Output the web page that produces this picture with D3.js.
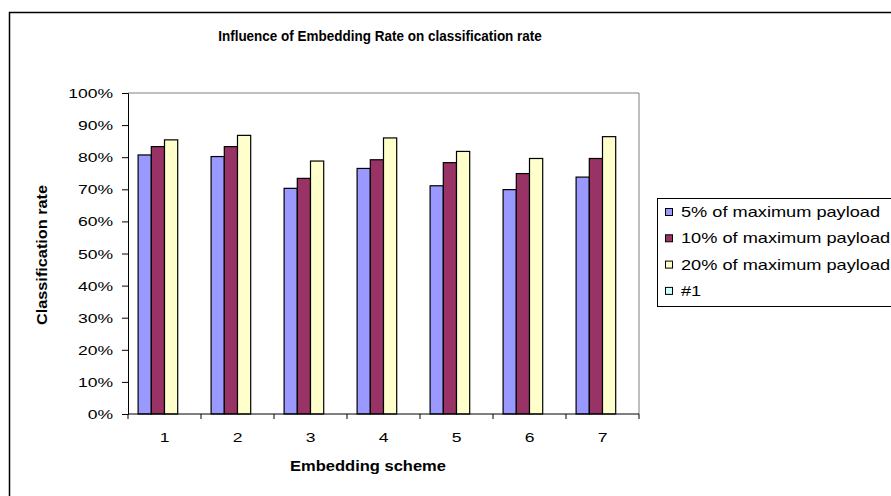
<!DOCTYPE html>
<html>
<head>
<meta charset="utf-8">
<script src="https://cdn.jsdelivr.net/npm/d3@7"></script>
<style>
  html, body { margin: 0; padding: 0; background: #fff; }
  svg { display: block; font-family: "Liberation Sans", Arial, sans-serif; }
</style>
</head>
<body>
<svg id="chart" width="891" height="496"></svg>
<script>
// Classification rate per embedding scheme, for three payload levels
const schemes = ["1", "2", "3", "4", "5", "6", "7"];
const seriesNames = ["5% of maximum payload", "10% of maximum payload", "20% of maximum payload", "#1"];
const payload5 = [80.7, 80.2, 70.3, 76.5, 71.1, 69.9, 73.8];
const payload10 = [83.3, 83.3, 73.4, 79.2, 78.3, 74.9, 79.6];
const payload20 = [85.4, 86.8, 78.8, 86.0, 81.8, 79.6, 86.4];
const series1 = [null, null, null, null, null, null, null];
const seriesColors = ["#9999FF", "#993366", "#FFFFCC", "#CCFFFF"];
const yTicks = [0, 10, 20, 30, 40, 50, 60, 70, 80, 90, 100];

const allSeries = [payload5, payload10, payload20, series1];

const svg = d3.select("#chart");
const STRETCH = 1.3; // horizontal stretch of the axis and legend type

// outer chart frame (continues past the right and bottom edges)
svg.append("rect")
  .attr("x", 9.5).attr("y", 12.5)
  .attr("width", 1000).attr("height", 1000)
  .attr("fill", "#fff").attr("stroke", "#000").attr("stroke-width", 1.5);

const plot = { left: 128, right: 639, top: 93, bottom: 414 };

const x = d3.scaleBand().domain(schemes).range([plot.left, plot.right]).padding(0);
const xInner = d3.scaleBand().domain(d3.range(seriesNames.length))
  .range([0, x.bandwidth()]).paddingInner(0).paddingOuter(0.765);
const y = d3.scaleLinear().domain([0, 100]).range([plot.bottom, plot.top]);

// plot area: grey border on top/right
svg.append("path")
  .attr("d", `M${plot.left},${plot.top}H${plot.right}V${plot.bottom}`)
  .attr("fill", "none").attr("stroke", "#808080").attr("stroke-width", 1);

// bars
const groups = svg.append("g").selectAll("g")
  .data(allSeries).join("g")
  .attr("fill", (d, i) => seriesColors[i]);
groups.selectAll("rect")
  .data((vals, si) => vals.map((v, ci) => ({ v, si, ci })).filter(d => d.v != null))
  .join("rect")
  .attr("x", d => x(schemes[d.ci]) + xInner(d.si))
  .attr("y", d => y(d.v))
  .attr("width", xInner.bandwidth())
  .attr("height", d => y(0) - y(d.v))
  .attr("stroke", "#000").attr("stroke-width", 1.2);

// text helper with optional horizontal stretch
function label(parent, tx, ty, text, opts = {}) {
  const sx = opts.stretch == null ? STRETCH : opts.stretch;
  return parent.append("text")
    .attr("transform", `translate(${tx},${ty}) scale(${sx},1)`)
    .attr("text-anchor", opts.anchor || "start")
    .attr("font-size", opts.size || 14)
    .attr("font-weight", opts.bold ? "bold" : "normal")
    .attr("fill", "#000")
    .text(text);
}

// y axis
const yAxis = d3.axisLeft(y).tickValues(yTicks).tickSize(6).tickFormat(() => "");
const yg = svg.append("g").attr("transform", `translate(${plot.left},0)`).call(yAxis);
yg.select(".domain").attr("stroke", "#000");
yg.selectAll(".tick line").attr("stroke", "#000");
yTicks.forEach(t => label(svg, 113, y(t) + 5, t + "%", { anchor: "end", size: 13.5 }));

// x axis: ticks on category boundaries, labels centred
const xg = svg.append("g").attr("transform", `translate(0,${plot.bottom})`);
xg.append("line").attr("x1", plot.left).attr("x2", plot.right)
  .attr("stroke", "#000");
const bounds = schemes.map(s => x(s)).concat([x.range()[1]]);
xg.selectAll("line.tk").data(bounds).join("line").attr("class", "tk")
  .attr("x1", d => d).attr("x2", d => d).attr("y1", 0).attr("y2", 5)
  .attr("stroke", "#000");
schemes.forEach(s => label(svg, x(s) + x.bandwidth() / 2, 442, s, { anchor: "middle", size: 13.5 }));

// titles
label(svg, 380, 41, "Influence of Embedding Rate on classification rate",
  { anchor: "middle", size: 14.5, bold: true, stretch: 0.93 });
label(svg, 368, 471, "Embedding scheme", { anchor: "middle", size: 14, bold: true, stretch: 1.18 });
svg.append("text")
  .attr("transform", `translate(47,255) rotate(-90)`)
  .attr("text-anchor", "middle").attr("font-size", 14).attr("font-weight", "bold")
  .attr("textLength", 140).attr("lengthAdjust", "spacingAndGlyphs")
  .text("Classification rate");

// legend
const legend = svg.append("g");
legend.append("rect")
  .attr("x", 657.5).attr("y", 198.5).attr("width", 300).attr("height", 108)
  .attr("fill", "#fff").attr("stroke", "#000").attr("stroke-width", 1);
seriesNames.forEach((name, i) => {
  const cy = 212 + i * 26.3;
  legend.append("rect")
    .attr("x", 665.5).attr("y", cy - 3.5).attr("width", 7).attr("height", 7)
    .attr("fill", seriesColors[i]).attr("stroke", "#000").attr("stroke-width", 1);
  label(legend, 681, cy + 5, name, { size: 14 });
});
</script>
</body>
</html>
